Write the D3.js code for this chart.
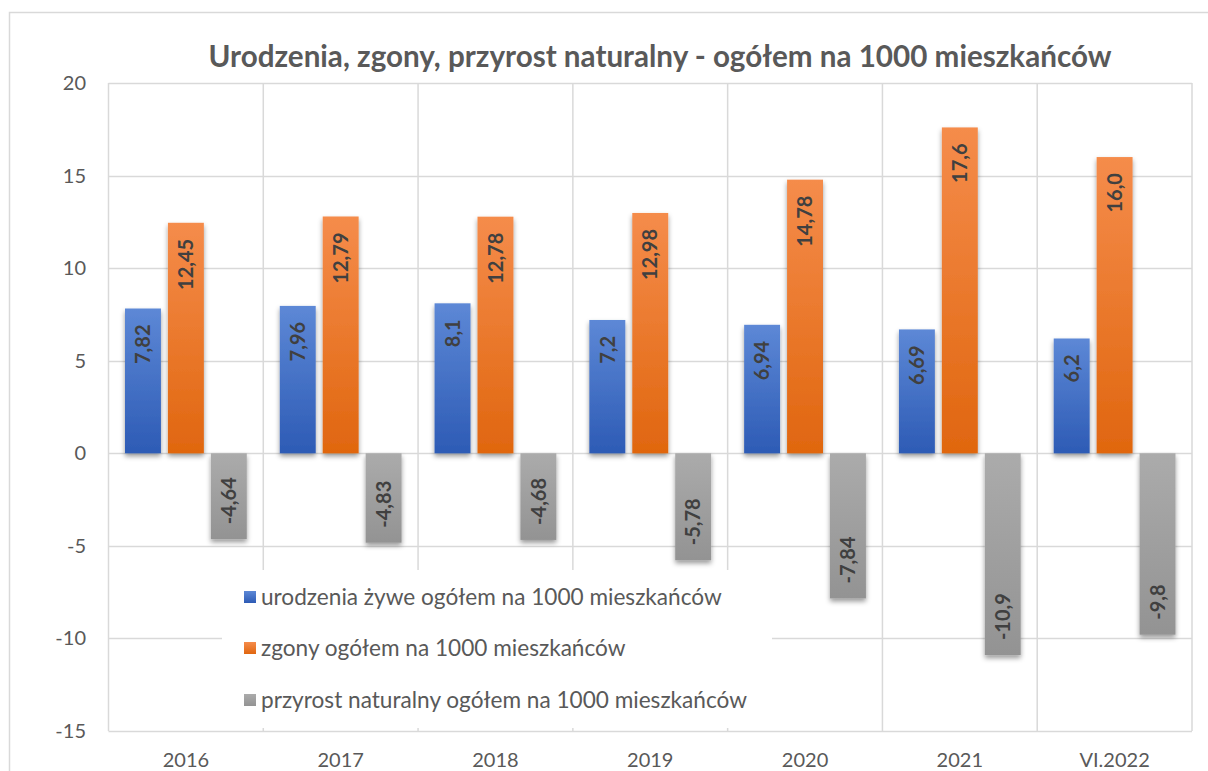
<!DOCTYPE html>
<html>
<head>
<meta charset="utf-8">
<script src="https://cdn.jsdelivr.net/npm/d3@7"></script>
<style>
  html, body { margin: 0; padding: 0; background: #fff; }
  svg { display: block; font-family: Lato, "Open Sans", sans-serif; }
</style>
</head>
<body>
<svg id="chart" width="1208" height="771"></svg>
<script>
const categories = ['2016', '2017', '2018', '2019', '2020', '2021', 'VI.2022'];
const births = [7.82, 7.96, 8.1, 7.2, 6.94, 6.69, 6.2];
const deaths = [12.45, 12.79, 12.78, 12.98, 14.78, 17.6, 16.0];
const growth = [-4.64, -4.83, -4.68, -5.78, -7.84, -10.9, -9.8];
const seriesNames = [
  'urodzenia żywe ogółem na 1000 mieszkańców',
  'zgony ogółem na 1000 mieszkańców',
  'przyrost naturalny ogółem na 1000 mieszkańców'
];
const yTicks = [-15, -10, -5, 0, 5, 10, 15, 20];
const title = 'Urodzenia, zgony, przyrost naturalny - ogółem na 1000 mieszkańców';

const svg = d3.select('#chart');
const textColor = '#595959';
const gridColor = '#d9d9d9';

// gradients per series: [top, bottom]
const gradStops = [
  ['#5d88d6', '#2d5bb5'],
  ['#f58c4b', '#e0660f'],
  ['#ababab', '#939393']
];

const defs = svg.append('defs');
gradStops.forEach((c, i) => {
  let g = defs.append('linearGradient')
    .attr('id', `grad-${i}`)
    .attr('x1', 0).attr('y1', 0).attr('x2', 0).attr('y2', 1);
  g.append('stop').attr('offset', '0%').attr('stop-color', c[0]);
  g.append('stop').attr('offset', '100%').attr('stop-color', c[1]);
});
defs.append('filter')
  .attr('id', 'shadow')
  .attr('x', '-30%').attr('y', '-10%').attr('width', '160%').attr('height', '130%')
  .append('feDropShadow')
  .attr('dx', 0).attr('dy', 3).attr('stdDeviation', 2.5)
  .attr('flood-color', '#000').attr('flood-opacity', 0.4);

// outer chart border
svg.append('rect')
  .attr('x', 9.5).attr('y', 12.5)
  .attr('width', 1260).attr('height', 800)
  .attr('fill', '#fff')
  .attr('stroke', gridColor).attr('stroke-width', 1.5);

const plot = { left: 108.5, right: 1192, top: 83, bottom: 731 };

const x0 = d3.scaleBand()
  .domain(categories)
  .range([plot.left, plot.right])
  .padding(0);

const x1 = d3.scaleBand()
  .domain([0, 1, 2])
  .range([16.5, x0.bandwidth() - 16.5])
  .paddingInner(0.163);

const y = d3.scaleLinear()
  .domain([-15, 20])
  .range([plot.bottom, plot.top]);

// horizontal gridlines
svg.append('g')
  .selectAll('line')
  .data(yTicks)
  .join('line')
  .attr('x1', plot.left).attr('x2', plot.right)
  .attr('y1', d => Math.round(y(d)) + 0.5).attr('y2', d => Math.round(y(d)) + 0.5)
  .attr('stroke', gridColor).attr('stroke-width', 1.5);

// vertical category separators
svg.append('g')
  .selectAll('line')
  .data(categories.map(c => x0(c)).concat([plot.right]))
  .join('line')
  .attr('x1', d => d).attr('x2', d => d)
  .attr('y1', plot.top).attr('y2', plot.bottom)
  .attr('stroke', gridColor).attr('stroke-width', 1.5);

// y tick labels
svg.append('g')
  .selectAll('text')
  .data(yTicks)
  .join('text')
  .attr('x', 86).attr('y', d => y(d))
  .attr('dy', '0.35em')
  .attr('text-anchor', 'end')
  .attr('fill', textColor)
  .style('font-size', '20px')
  .text(d => d);

// x labels
svg.append('g')
  .selectAll('text')
  .data(categories)
  .join('text')
  .attr('x', d => x0(d) + x0.bandwidth() / 2)
  .attr('y', 767)
  .attr('text-anchor', 'middle')
  .attr('fill', textColor)
  .style('font-size', '20px')
  .text(d => d);

// bars
const allSeries = [births, deaths, growth];
const barData = [];
allSeries.forEach((vals, s) => {
  vals.forEach((v, i) => barData.push({ cat: categories[i], s, v }));
});

const fmt = v => (Number.isInteger(v) ? v.toFixed(1) : String(v)).replace('.', ',');

const barGroup = svg.append('g');
barGroup.selectAll('rect')
  .data(barData)
  .join('rect')
  .attr('x', d => x0(d.cat) + x1(d.s))
  .attr('y', d => y(Math.max(0, d.v)))
  .attr('width', x1.bandwidth())
  .attr('height', d => Math.abs(y(d.v) - y(0)))
  .attr('fill', d => `url(#grad-${d.s})`)
  .attr('filter', 'url(#shadow)');

// data labels, rotated, inside end
barGroup.selectAll('text')
  .data(barData)
  .join('text')
  .attr('transform', d => {
    let cx = x0(d.cat) + x1(d.s) + x1.bandwidth() / 2;
    let cy = d.v >= 0 ? y(d.v) + 16 : y(d.v) - 15;
    return `translate(${cx},${cy}) rotate(-90)`;
  })
  .attr('text-anchor', d => d.v >= 0 ? 'end' : 'start')
  .attr('dy', '0.36em')
  .attr('fill', '#404040')
  .style('font-size', '20px')
  .style('font-weight', 'bold')
  .text(d => fmt(d.v));

// legend box (sits over the grid)
svg.append('rect')
  .attr('x', 222).attr('y', 570)
  .attr('width', 550).attr('height', 158)
  .attr('fill', '#fff');

const legend = svg.append('g');
const rowY = [597, 648, 700];
seriesNames.forEach((name, i) => {
  legend.append('rect')
    .attr('x', 244).attr('y', rowY[i] - 6)
    .attr('width', 12).attr('height', 12)
    .attr('fill', `url(#grad-${i})`);
  legend.append('text')
    .attr('class', 'legend-text')
    .attr('x', 261).attr('y', rowY[i])
    .attr('dy', '0.35em')
    .attr('fill', textColor)
    .style('font-size', '20px')
    .text(name);
});
// match legend width to the reference
const firstLegend = legend.select('text.legend-text').node();
const legendScale = 461 / firstLegend.getComputedTextLength();
legend.selectAll('text.legend-text').style('font-size', `${20 * legendScale}px`);

// title
const titleText = svg.append('text')
  .attr('x', 660).attr('y', 67)
  .attr('text-anchor', 'middle')
  .attr('fill', textColor)
  .style('font-size', '26px')
  .style('font-weight', 'bold')
  .text(title);
const titleScale = 903 / titleText.node().getComputedTextLength();
titleText.style('font-size', `${26 * titleScale}px`);
</script>
</body>
</html>
